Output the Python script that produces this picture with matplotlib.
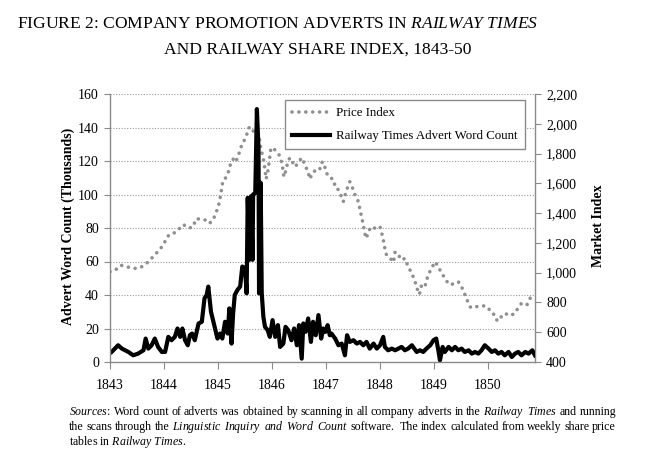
import matplotlib
matplotlib.use('Agg')
import matplotlib.pyplot as plt

plt.rcParams['font.family'] = ['Liberation Serif', 'DejaVu Serif']
plt.rcParams['mathtext.fontset'] = 'custom'
plt.rcParams['mathtext.rm'] = 'Liberation Serif'
plt.rcParams['mathtext.it'] = 'Liberation Serif:italic'

# Railway share price index (right axis)
price_years = [1843.00, 1843.10, 1843.20, 1843.31, 1843.42, 1843.52, 1843.62, 1843.71, 1843.83, 1843.90,
               1843.99, 1844.03, 1844.09, 1844.15, 1844.26, 1844.36, 1844.43, 1844.52, 1844.61, 1844.68,
               1844.77, 1844.84, 1844.91, 1844.95, 1845.00, 1845.03, 1845.05, 1845.07, 1845.09, 1845.13,
               1845.19, 1845.22, 1845.28, 1845.31, 1845.37, 1845.40, 1845.44, 1845.48, 1845.53, 1845.56,
               1845.60, 1845.65, 1845.72, 1845.76, 1845.79, 1845.82, 1845.85, 1845.87, 1845.89, 1845.92,
               1845.95, 1845.98, 1846.06, 1846.12, 1846.16, 1846.20, 1846.22, 1846.26, 1846.29, 1846.33,
               1846.38, 1846.43, 1846.49, 1846.55, 1846.61, 1846.67, 1846.70, 1846.75, 1846.81, 1846.88,
               1846.92, 1846.96, 1847.00, 1847.04, 1847.10, 1847.13, 1847.20, 1847.23, 1847.29, 1847.32,
               1847.37, 1847.44, 1847.49, 1847.55, 1847.60, 1847.63, 1847.66, 1847.69, 1847.72, 1847.75,
               1847.78, 1847.84, 1847.93, 1848.00, 1848.05, 1848.09, 1848.12, 1848.19, 1848.25, 1848.28,
               1848.34, 1848.40, 1848.46, 1848.52, 1848.59, 1848.65, 1848.69, 1848.73, 1848.77, 1848.83,
               1848.89, 1848.96, 1849.02, 1849.08, 1849.14, 1849.20, 1849.27, 1849.33, 1849.39, 1849.45,
               1849.51, 1849.57, 1849.62, 1849.68, 1849.76, 1849.85, 1849.94, 1850.00, 1850.07, 1850.13,
               1850.17, 1850.23, 1850.31, 1850.41, 1850.50, 1850.56, 1850.62, 1850.72, 1850.78, 1850.84]
price_index = [1006, 1018, 1050, 1040, 1029, 1029, 1045, 1074, 1119, 1148,
               1186, 1219, 1253, 1257, 1286, 1324, 1302, 1302, 1365, 1354,
               1354, 1331, 1354, 1392, 1437, 1481, 1526, 1571, 1616, 1629,
               1674, 1718, 1763, 1741, 1772, 1817, 1857, 1884, 1924, 1969,
               1980, 1951, 1958, 1913, 1839, 1794, 1745, 1690, 1629, 1674,
               1750, 1839, 1824, 1800, 1768, 1700, 1644, 1689, 1741, 1772,
               1741, 1711, 1741, 1772, 1723, 1674, 1629, 1670, 1689, 1689,
               1741, 1741, 1674, 1652, 1640, 1599, 1588, 1548, 1510, 1477,
               1544, 1611, 1570, 1510, 1477, 1420, 1376, 1320, 1260, 1230,
               1275, 1309, 1295, 1309, 1240, 1163, 1119, 1096, 1070, 1140,
               1119, 1085, 1096, 1041, 995, 939, 890, 854, 917, 906,
               984, 1033, 1073, 1040, 995, 966, 922, 922, 929, 939,
               906, 855, 810, 765, 772, 772, 778, 765, 727, 716,
               675, 698, 727, 711, 727, 765, 794, 783, 828, 861]

# Railway Times advert word count, thousands (left axis)
word_years = [1843.03, 1843.09, 1843.15, 1843.22, 1843.28, 1843.34, 1843.43, 1843.52, 1843.62, 1843.66,
              1843.71, 1843.77, 1843.83, 1843.89, 1843.96, 1844.02, 1844.08, 1844.14, 1844.20, 1844.25,
              1844.30, 1844.34, 1844.39, 1844.44, 1844.48, 1844.52, 1844.57, 1844.64, 1844.70, 1844.75,
              1844.79, 1844.82, 1844.87, 1844.93, 1844.99, 1845.04, 1845.08, 1845.13, 1845.18, 1845.21,
              1845.25, 1845.28, 1845.31, 1845.36, 1845.41, 1845.45, 1845.50, 1845.53, 1845.55, 1845.58,
              1845.61, 1845.64, 1845.65, 1845.69, 1845.72, 1845.75, 1845.76, 1845.79, 1845.81, 1845.84,
              1845.87, 1845.92, 1845.96, 1846.01, 1846.06, 1846.11, 1846.15, 1846.21, 1846.25, 1846.30,
              1846.36, 1846.41, 1846.46, 1846.50, 1846.55, 1846.58, 1846.62, 1846.67, 1846.72, 1846.76,
              1846.81, 1846.86, 1846.91, 1846.95, 1846.99, 1847.03, 1847.07, 1847.10, 1847.17, 1847.23,
              1847.29, 1847.35, 1847.39, 1847.44, 1847.51, 1847.57, 1847.63, 1847.69, 1847.75, 1847.81,
              1847.88, 1847.94, 1848.00, 1848.06, 1848.09, 1848.15, 1848.22, 1848.28, 1848.34, 1848.40,
              1848.46, 1848.52, 1848.59, 1848.68, 1848.74, 1848.80, 1848.86, 1848.93, 1848.99, 1849.04,
              1849.08, 1849.11, 1849.16, 1849.20, 1849.27, 1849.33, 1849.39, 1849.45, 1849.51, 1849.57,
              1849.64, 1849.70, 1849.76, 1849.82, 1849.88, 1849.94, 1850.01, 1850.07, 1850.13, 1850.19,
              1850.25, 1850.31, 1850.38, 1850.44, 1850.50, 1850.56, 1850.62, 1850.69, 1850.75, 1850.82,
              1850.87]
word_count = [6, 8, 10, 8, 7, 6, 4, 5, 7, 14,
              8, 10, 14, 9, 6, 6, 15, 13, 15, 20,
              15, 20, 13, 10, 16, 17, 13, 23, 24, 38,
              40, 45, 30, 22, 14, 17, 14, 24, 17, 32,
              11, 29, 40, 43, 45, 57, 56, 41, 98, 61,
              99, 61, 100, 101, 151, 127, 41, 107, 41, 27,
              21, 19, 15, 25, 15, 22, 9, 11, 21, 19,
              13, 20, 10, 22, 2, 23, 18, 26, 12, 24,
              16, 28, 14, 20, 18, 22, 16, 17, 14, 10,
              11, 4, 16, 12, 13, 11, 12, 10, 12, 8,
              11, 8, 10, 15, 9, 7, 8, 7, 8, 9,
              7, 8, 10, 6, 7, 6, 8, 10, 13, 14,
              7, 1, 9, 6, 9, 7, 9, 7, 8, 6,
              7, 5, 6, 5, 7, 10, 8, 6, 7, 5,
              6, 4, 6, 3, 5, 6, 4, 6, 5, 7,
              4]

year_ticks = [1843, 1844, 1845, 1846, 1847, 1848, 1849, 1850]
left_ticks = [0, 20, 40, 60, 80, 100, 120, 140, 160]
right_ticks = [400, 600, 800, 1000, 1200, 1400, 1600, 1800, 2000, 2200]

W, H = 662, 466
grey = '#8a8a8a'

fig = plt.figure(figsize=(W / 100, H / 100), dpi=100)
ax = fig.add_axes([110 / W, 1 - 362 / H, 425 / W, 268 / H])
ax2 = ax.twinx()
# word count line sits on top of the price dots
ax.set_zorder(ax2.get_zorder() + 1)
ax.patch.set_visible(False)

p_line, = ax2.plot(price_years, price_index, color='#8f8f8f', lw=2.6,
                   linestyle=(0, (0.01, 1.9)), dash_capstyle='round', label='Price Index')
w_line, = ax.plot(word_years, word_count, color='black', lw=3.0,
                  label='Railway Times Advert Word Count')

ax.set_xlim(1843, 1850.87)
ax.set_ylim(0, 160)
ax2.set_ylim(400, 2200)
ax.set_xticks(year_ticks)
ax.set_xticklabels([str(y) for y in year_ticks])
ax.set_yticks(left_ticks)
ax2.set_yticks(right_ticks)
ax2.set_yticklabels([f'{v:,}' for v in right_ticks])

ax.yaxis.grid(True, linestyle=(0, (1, 1.5)), color='#9a9a9a', lw=0.8)
ax.set_axisbelow(True)

for a in (ax, ax2):
    a.spines['top'].set_visible(False)
    for s in a.spines.values():
        s.set_color(grey)
        s.set_linewidth(1)
ax.spines['right'].set_visible(False)
ax2.spines['left'].set_visible(False)
ax2.spines['bottom'].set_visible(False)

ax.tick_params(axis='x', direction='out', length=5, color=grey, pad=7, labelsize=10)
ax.tick_params(axis='y', direction='out', length=4, color=grey, pad=4, labelsize=10)
ax2.tick_params(axis='y', direction='out', length=4, color=grey, pad=4, labelsize=10)

fig.text(68 / W, 1 - 226 / H, 'Advert Word Count (Thousands)', rotation=90,
         ha='center', va='center', fontsize=10, fontweight='bold')
fig.text(598 / W, 1 - 226 / H, 'Market Index', rotation=90,
         ha='center', va='center', fontsize=10, fontweight='bold')

leg = ax.legend([p_line, w_line], ['Price Index', 'Railway Times Advert Word Count'],
                loc='upper right', bbox_to_anchor=(0.976, 0.978), borderaxespad=0,
                fontsize=9.3, handlelength=3.0, handletextpad=0.45, labelspacing=0.85,
                fancybox=False, framealpha=1, edgecolor=grey, borderpad=0.55)
leg.get_frame().set_linewidth(1)

renderer = fig.canvas.get_renderer()


def justify(x0, y, words, size, width):
    # place words one by one so the line fills the given width
    texts = [fig.text(0, 1 - y / H, w, fontsize=size, va='baseline', ha='left') for w in words]
    widths = [t.get_window_extent(renderer).width for t in texts]
    gap = (width - sum(widths)) / (len(words) - 1)
    x = x0
    for t, w in zip(texts, widths):
        t.set_x(x / W)
        x += w + gap


def it(s):
    return r'$\mathit{' + s + '}$'


fig.text(17 / W, 1 - 28 / H, 'FIGURE 2: COMPANY PROMOTION ADVERTS IN ' + it(r'RAILWAY\ TIMES'),
         fontsize=12.6, va='baseline', ha='left')
fig.text(164 / W, 1 - 54 / H, 'AND RAILWAY SHARE INDEX, 1843-50',
         fontsize=12.6, va='baseline', ha='left')

line1 = ([it('Sources') + ':'] + 'Word count of adverts was obtained by scanning in all company adverts in the'.split()
         + [it('Railway'), it('Times'), 'and', 'running'])
line2 = ('the scans through the'.split() + [it('Linguistic'), it('Inquiry'), it('and'), it('Word'), it('Count')]
         + ['software.', ''] + 'The index calculated from weekly share price'.split())
justify(69, 415, line1, 8.6, 547)
justify(69, 430, line2, 8.6, 547)
fig.text(69 / W, 1 - 445 / H, 'tables in ' + it(r'Railway\ Times') + '.',
         fontsize=8.6, va='baseline', ha='left')

fig.savefig('out.png', dpi=100)
